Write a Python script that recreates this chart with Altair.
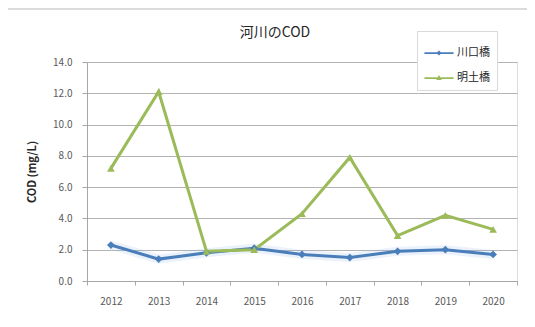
import altair as alt
import pandas as pd

years = ["2012", "2013", "2014", "2015", "2016", "2017", "2018", "2019", "2020"]
kawaguchi = [2.3, 1.4, 1.8, 2.1, 1.7, 1.5, 1.9, 2.0, 1.7]
meido = [7.2, 12.1, 1.9, 2.0, 4.3, 7.9, 2.9, 4.2, 3.3]
series_names = ["川口橋", "明土橋"]
colors = ["#4a7ebb", "#9bbb59"]
y_ticks = [0, 2, 4, 6, 8, 10, 12, 14]
chart_title = "河川のCOD"

rows = []
for s, vals in zip(series_names, [kawaguchi, meido]):
    for y, v in zip(years, vals):
        rows.append({"year": y, "series": s, "cod": v})
df = pd.DataFrame(rows)

FONT = "Noto Sans CJK JP"

x_enc = alt.X("year:O", sort=years, scale=alt.Scale(paddingInner=0, paddingOuter=0, padding=0),
              axis=alt.Axis(title=None, labelAngle=0, labelFont=FONT, labelFontSize=10,
                            labelColor="#595959", domainColor="#a6a6a6", tickColor="#a6a6a6",
                            tickBand="extent", tickSize=4, labelPadding=11, grid=False))
y_enc = alt.Y("cod:Q", scale=alt.Scale(domain=[0, 14], nice=False),
              axis=alt.Axis(title="COD (mg/L)", values=y_ticks, format=".1f",
                            labelFont=FONT, labelFontSize=10, labelColor="#595959",
                            titleFont=FONT, titleFontSize=11, titleFontWeight="bold",
                            titleColor="#262626", titlePadding=15,
                            domainColor="#a6a6a6", tickColor="#a6a6a6", tickSize=5,
                            labelPadding=10, gridColor="#b3b3b3", gridWidth=1))
color_scale = alt.Scale(domain=series_names, range=colors)

frame = alt.Chart(pd.DataFrame({"a": [0]})).mark_rect(
    fillOpacity=0, stroke="#d0d0d0", strokeWidth=1.5
).encode(x=alt.value(-82), x2=alt.value(470), y=alt.value(-53), y2=alt.value(270))

title = alt.Chart(pd.DataFrame({"t": [chart_title]})).mark_text(
    font=FONT, fontSize=14, color="#262626", align="center", baseline="middle"
).encode(x=alt.value(188), y=alt.value(-29), text="t:N")

glow = alt.Chart(df).transform_filter(alt.datum.series == "川口橋").mark_line(
    strokeWidth=9, opacity=0.18, color="#8fb8e8"
).encode(x=x_enc, y=y_enc)

lines = alt.Chart(df).mark_line(strokeWidth=3).encode(
    x=x_enc, y=y_enc, color=alt.Color("series:N", scale=color_scale, legend=None)
)

points = alt.Chart(df).mark_point(filled=True, opacity=1, size=60).encode(
    x=x_enc, y=y_enc,
    color=alt.Color("series:N", scale=color_scale, legend=None),
    shape=alt.Shape("series:N", scale=alt.Scale(domain=series_names, range=["diamond", "triangle-up"]),
                    legend=None),
)

leg_diamond = "M-1,-0.06L1,-0.06L1,0.06L-1,0.06Z M0,-0.18L0.18,0L0,0.18L-0.18,0Z"
leg_triangle = "M-1,-0.06L1,-0.06L1,0.06L-1,0.06Z M0,-0.2L0.19,0.14L-0.19,0.14Z"

leg = alt.Legend(title=None, orient="none", legendX=330, legendY=-31,
                 strokeColor="#d9d9d9", fillColor="white", padding=7,
                 labelFont=FONT, labelFontSize=11, labelColor="#262626",
                 symbolSize=850, symbolOpacity=1, rowPadding=5, labelOffset=3,
                 symbolStrokeWidth=0)

legend_layer = alt.Chart(df).transform_filter("false").mark_point(filled=True, opacity=1).encode(
    x=x_enc, y=y_enc,
    color=alt.Color("series:N", scale=alt.Scale(domain=series_names, range=colors), legend=leg),
    shape=alt.Shape("series:N", scale=alt.Scale(domain=series_names, range=[leg_diamond, leg_triangle]),
                    legend=leg),
)

chart = alt.layer(frame, glow, lines, points, legend_layer, title).resolve_scale(
    color="independent", shape="independent"
).properties(
    width=430, height=219,
    autosize=alt.AutoSizeParams(type="none"),
    padding={"left": 79, "top": 54, "right": 10, "bottom": 30},
).configure_view(stroke=None).configure(background="white")

chart.save("out.html", embed_options={"renderer": "svg", "actions": False})
